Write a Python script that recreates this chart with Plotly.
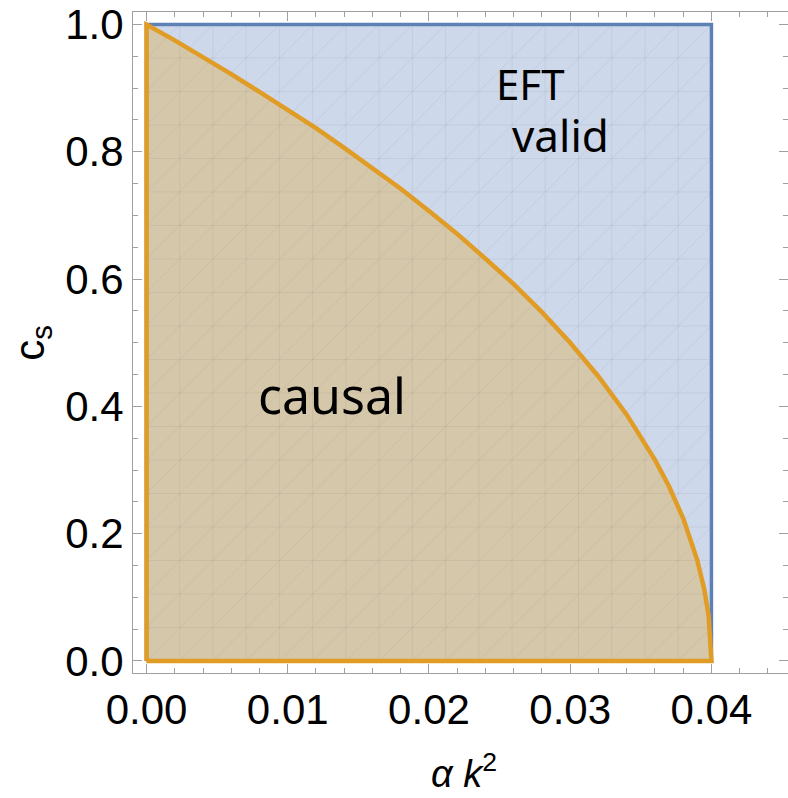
import numpy as np
import plotly.graph_objects as go

# ---- data ----
# EFT-valid region: rectangle 0 <= alpha k^2 <= 0.04, 0 <= c_s <= 1
eft_x = [0.0, 0.04, 0.04, 0.0, 0.0]
eft_y = [0.0, 0.0, 1.0, 1.0, 0.0]

# causal boundary curve c_s(alpha k^2)
causal_x = [0.0, 0.002, 0.004, 0.006, 0.008, 0.010, 0.012, 0.014, 0.016, 0.018,
            0.020, 0.022, 0.024, 0.026, 0.028, 0.030, 0.032, 0.034, 0.036, 0.037,
            0.038, 0.039, 0.0395, 0.0398, 0.040]
causal_y = [1.000, 0.975, 0.949, 0.922, 0.894, 0.866, 0.837, 0.806, 0.775, 0.742,
            0.707, 0.671, 0.632, 0.592, 0.548, 0.500, 0.447, 0.387, 0.316, 0.274,
            0.224, 0.158, 0.112, 0.071, 0.000]

x_ticks = [0.00, 0.01, 0.02, 0.03, 0.04]
y_ticks = [0.0, 0.2, 0.4, 0.6, 0.8, 1.0]

labels = [("EFT", 0.0272, 0.908, 42), ("valid", 0.0293, 0.826, 44),
          ("causal", 0.0131, 0.418, 50)]

BLUE = "#5e81b5"
ORANGE = "#e09c24"
BLUE_FILL = "#cdd8ea"
ORANGE_FILL = "#d5c7aa"

fig = go.Figure()

# blue region fill
fig.add_trace(go.Scatter(x=eft_x, y=eft_y, mode="lines", fill="toself",
                         fillcolor=BLUE_FILL, line=dict(width=0), hoverinfo="skip",
                         showlegend=False))
# orange region fill
ox = [0.0] + causal_x + [0.0]
oy = [0.0] + causal_y + [0.0]
fig.add_trace(go.Scatter(x=ox, y=oy, mode="lines", fill="toself",
                         fillcolor=ORANGE_FILL, line=dict(width=0), hoverinfo="skip",
                         showlegend=False))

# faint render mesh (decoration)
nx, ny = 17, 19
gx = np.linspace(0, 0.04, nx + 1)
gy = np.linspace(0, 1, ny + 1)
mx, my = [], []
for v in gx:
    mx += [v, v, None]; my += [0, 1, None]
for v in gy:
    mx += [0, 0.04, None]; my += [v, v, None]
for k in range(-ny, nx):
    i0, j0 = max(k, 0), max(-k, 0)
    n = min(nx - i0, ny - j0)
    if n <= 0:
        continue
    mx += [gx[i0], gx[i0 + n], None]; my += [gy[j0], gy[j0 + n], None]
fig.add_trace(go.Scatter(x=mx, y=my, mode="lines",
                         line=dict(color="rgba(110,105,110,0.09)", width=1),
                         hoverinfo="skip", showlegend=False))

# boundaries
fig.add_trace(go.Scatter(x=eft_x, y=eft_y, mode="lines",
                         line=dict(color=BLUE, width=3.5), showlegend=False))
fig.add_trace(go.Scatter(x=ox, y=oy, mode="lines",
                         line=dict(color=ORANGE, width=4.5), showlegend=False))

for txt, xx, yy, fs in labels:
    fig.add_annotation(x=xx, y=yy, text=txt, showarrow=False, yanchor="middle",
                       font=dict(family="Noto Sans", size=fs, color="black"))

axis_common = dict(showgrid=False, zeroline=False, showline=True, linecolor="#a0a0a0",
                   linewidth=1, mirror="allticks", ticks="inside", tickcolor="#a0a0a0",
                   tickwidth=1, ticklen=9,
                   tickfont=dict(family="Liberation Sans, Arial", size=42, color="black"))

fig.update_xaxes(range=[-0.000956, 0.04542], tickvals=x_ticks, tickformat=".2f",
                 minor=dict(ticks="inside", ticklen=5, dtick=0.002, tick0=0,
                            tickcolor="#a0a0a0", showgrid=False),
                 **axis_common)
fig.update_yaxes(range=[-0.0189, 1.0196], tickvals=y_ticks, tickformat=".1f",
                 minor=dict(ticks="inside", ticklen=5, dtick=0.05, tick0=0,
                            tickcolor="#a0a0a0", showgrid=False),
                 **axis_common)

fig.add_annotation(xref="paper", yref="paper", x=0.505, y=-0.149,
                   xanchor="center", yanchor="middle",
                   text="<i>α k</i><sup>2</sup>", showarrow=False,
                   font=dict(family="Liberation Sans, Arial", size=38, color="black"))
fig.add_annotation(xref="paper", yref="paper", x=-0.154, y=0.5, textangle=-90,
                   xanchor="center", yanchor="middle",
                   text="c<sub>s</sub>", showarrow=False,
                   font=dict(family="Liberation Sans, Arial", size=42, color="black"))

fig.update_layout(width=788, height=798, margin=dict(l=133, r=0, t=12, b=125),
                  plot_bgcolor="white", paper_bgcolor="white")

fig.write_html("out.html")
